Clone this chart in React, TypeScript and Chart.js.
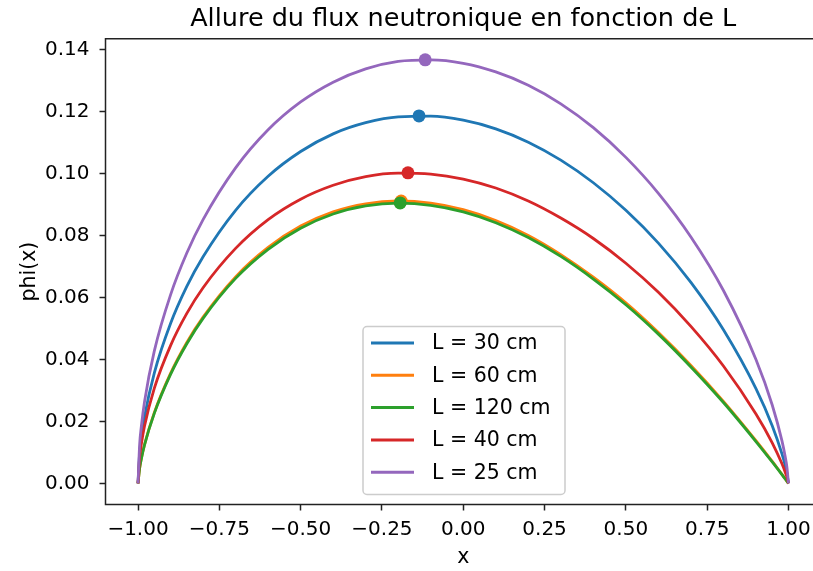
import React, { useEffect, useRef } from 'react';
import { Chart, registerables } from 'chart.js';

Chart.register(...registerables);

const TITLE = 'Allure du flux neutronique en fonction de L';
const X_LABEL = 'x';
const Y_LABEL = 'phi(x)';

const XS = [-1, -0.995, -0.99, -0.98, -0.95, -0.9, -0.85, -0.8, -0.7, -0.6, -0.5, -0.4, -0.3, -0.2, -0.1, 0, 0.1, 0.2, 0.3, 0.4, 0.5, 0.6, 0.7, 0.8, 0.9, 0.95, 0.98, 0.99, 0.995, 1];

const PHI_30 = [0, 0.0099, 0.0146, 0.0215, 0.0356, 0.0516, 0.0636, 0.0732, 0.0882, 0.0992, 0.1072, 0.1129, 0.1165, 0.1184, 0.1186, 0.1173, 0.1145, 0.1102, 0.1044, 0.0971, 0.0882, 0.0776, 0.0649, 0.0496, 0.0306, 0.0186, 0.0095, 0.0057, 0.0034, 0];
const PHI_60 = [0, 0.0049, 0.0079, 0.0125, 0.0228, 0.0355, 0.0455, 0.0537, 0.0667, 0.0762, 0.0831, 0.0877, 0.0903, 0.0912, 0.0905, 0.0884, 0.0849, 0.0801, 0.0739, 0.0666, 0.0583, 0.0487, 0.0381, 0.0265, 0.0138, 0.0071, 0.0029, 0.0015, 0.0007, 0];
const PHI_120 = [0, 0.0049, 0.0078, 0.0124, 0.0226, 0.0352, 0.0451, 0.0533, 0.0662, 0.0756, 0.0824, 0.0870, 0.0896, 0.0905, 0.0898, 0.0877, 0.0842, 0.0794, 0.0733, 0.0660, 0.0577, 0.0482, 0.0376, 0.0261, 0.0135, 0.0069, 0.0028, 0.0014, 0.0007, 0];
const PHI_40 = [0, 0.0085, 0.0125, 0.0185, 0.0307, 0.0445, 0.0549, 0.0632, 0.0759, 0.0852, 0.0918, 0.0963, 0.0991, 0.1002, 0.0999, 0.0983, 0.0954, 0.0912, 0.0857, 0.0791, 0.0711, 0.0617, 0.0507, 0.0379, 0.0224, 0.0131, 0.0063, 0.0036, 0.0021, 0];
const PHI_25 = [0, 0.0126, 0.0182, 0.0264, 0.0427, 0.0609, 0.0744, 0.0852, 0.1019, 0.1142, 0.1232, 0.1296, 0.1339, 0.1363, 0.1368, 0.1357, 0.1329, 0.1286, 0.1226, 0.1149, 0.1053, 0.0937, 0.0796, 0.0623, 0.0400, 0.0253, 0.0137, 0.0086, 0.0054, 0];

const SERIES_LABELS = ['L = 30 cm', 'L = 60 cm', 'L = 120 cm', 'L = 40 cm', 'L = 25 cm'];
const SERIES_COLORS = ['#1f77b4', '#ff7f0e', '#2ca02c', '#d62728', '#9467bd'];
const SERIES = [PHI_30, PHI_60, PHI_120, PHI_40, PHI_25];

const PEAK_X = [-0.136, -0.191, -0.194, -0.170, -0.117];
const PEAK_Y = [0.1187, 0.0912, 0.0906, 0.1003, 0.1368];

const X_TICKS = [-1, -0.75, -0.5, -0.25, 0, 0.25, 0.5, 0.75, 1];
const Y_TICKS = [0, 0.02, 0.04, 0.06, 0.08, 0.1, 0.12, 0.14];

const X_MIN = -1.1;
const X_VISIBLE_MAX = 1.0554;
const X_FULL_MAX = 1.1;

const FONT = '"DejaVu Sans", "Liberation Sans", sans-serif';
const AXIS_COLOR = '#222';

const fmt = (v: number) => {
  const s = Math.abs(v).toFixed(2);
  return v < -1e-9 ? '\u2212' + s : s;
};

const decorPlugin = {
  id: 'decor',
  afterDraw(chart: any) {
    const ctx = chart.ctx;
    const { left, right, top, bottom } = chart.chartArea;
    const W = chart.width;
    ctx.save();
    ctx.fillStyle = '#fff';
    ctx.fillRect(right - 3, top + 1, W - right + 3, bottom - top - 2);
    ctx.strokeStyle = AXIS_COLOR;
    ctx.lineWidth = 1.5;
    ctx.beginPath();
    ctx.moveTo(W + 2, top);
    ctx.lineTo(left, top);
    ctx.lineTo(left, bottom);
    ctx.lineTo(W + 2, bottom);
    ctx.stroke();
    const xs = chart.scales.x;
    const cx = (xs.getPixelForValue(X_MIN) + xs.getPixelForValue(X_FULL_MAX)) / 2;
    ctx.fillStyle = '#000';
    ctx.font = `25.5px ${FONT}`;
    ctx.textAlign = 'center';
    ctx.textBaseline = 'alphabetic';
    ctx.fillText(TITLE, cx, top - 12.5);
    ctx.font = `20.5px ${FONT}`;
    ctx.fillText(X_LABEL, cx, 563);
    ctx.save();
    ctx.translate(30, (top + bottom) / 2);
    ctx.rotate(-Math.PI / 2);
    ctx.textBaseline = 'middle';
    ctx.fillText(Y_LABEL, 0, 0);
    ctx.restore();
    const bx = 363, by = 326.5, bw = 202, bh = 168, r = 4;
    ctx.beginPath();
    ctx.moveTo(bx + r, by);
    ctx.lineTo(bx + bw - r, by);
    ctx.arcTo(bx + bw, by, bx + bw, by + r, r);
    ctx.lineTo(bx + bw, by + bh - r);
    ctx.arcTo(bx + bw, by + bh, bx + bw - r, by + bh, r);
    ctx.lineTo(bx + r, by + bh);
    ctx.arcTo(bx, by + bh, bx, by + bh - r, r);
    ctx.lineTo(bx, by + r);
    ctx.arcTo(bx, by, bx + r, by, r);
    ctx.closePath();
    ctx.fillStyle = 'rgba(255,255,255,0.8)';
    ctx.fill();
    ctx.strokeStyle = '#cccccc';
    ctx.lineWidth = 1.5;
    ctx.stroke();
    ctx.font = `20.5px ${FONT}`;
    ctx.textAlign = 'left';
    ctx.textBaseline = 'middle';
    SERIES_LABELS.forEach((lab, i) => {
      const y = 343 + i * 32.3;
      ctx.strokeStyle = SERIES_COLORS[i];
      ctx.lineWidth = 3;
      ctx.beginPath();
      ctx.moveTo(371, y);
      ctx.lineTo(414, y);
      ctx.stroke();
      ctx.fillStyle = '#000';
      ctx.fillText(lab, 432, y + 1);
    });
    ctx.restore();
  },
};

export default function App() {
  const ref = useRef<HTMLCanvasElement>(null);
  useEffect(() => {
    if (!ref.current) return;
    const datasets: any[] = [];
    SERIES.forEach((ys, i) => {
      datasets.push({
        type: 'line',
        label: SERIES_LABELS[i],
        data: XS.map((x, j) => ({ x, y: ys[j] })),
        borderColor: SERIES_COLORS[i],
        backgroundColor: SERIES_COLORS[i],
        borderWidth: 2.8,
        pointRadius: 0,
        fill: false,
        cubicInterpolationMode: 'monotone',
        order: 100 - 2 * i,
      });
      datasets.push({
        type: 'line',
        showLine: false,
        label: SERIES_LABELS[i] + ' max',
        data: [{ x: PEAK_X[i], y: PEAK_Y[i] }],
        backgroundColor: SERIES_COLORS[i],
        borderColor: SERIES_COLORS[i],
        pointBorderWidth: 0,
        pointRadius: 6.5,
        order: 99 - 2 * i,
      });
    });
    const tickFont = { family: FONT, size: 20 };
    const chart = new Chart(ref.current, {
      type: 'line',
      data: { datasets },
      options: {
        responsive: false,
        maintainAspectRatio: false,
        animation: false,
        devicePixelRatio: 1,
        layout: { padding: { left: 0, right: 0, top: 38.7, bottom: 0 } },
        plugins: { legend: { display: false }, title: { display: false }, tooltip: { enabled: false } },
        scales: {
          x: {
            type: 'linear',
            min: X_MIN,
            max: X_VISIBLE_MAX,
            afterBuildTicks: (s: any) => { s.ticks = X_TICKS.map((v) => ({ value: v })); },
            afterFit: (s: any) => { s.height = 66.5; s.paddingRight = 0; s.paddingLeft = 0; },
            ticks: { font: tickFont, color: '#000', padding: 7, maxRotation: 0, autoSkip: false, callback: (v: any) => fmt(Number(v)) },
            grid: { display: true, drawOnChartArea: false, drawTicks: true, tickLength: 6, tickWidth: 1.5, tickColor: AXIS_COLOR },
            border: { display: false },
          },
          y: {
            type: 'linear',
            min: -0.00684,
            max: 0.14364,
            afterBuildTicks: (s: any) => { s.ticks = Y_TICKS.map((v) => ({ value: v })); },
            afterFit: (s: any) => { s.width = 105.5; s.paddingTop = 0; s.paddingBottom = 0; },
            ticks: { font: tickFont, color: '#000', padding: 10, autoSkip: false, callback: (v: any) => fmt(Number(v)) },
            grid: { display: true, drawOnChartArea: false, drawTicks: true, tickLength: 6, tickWidth: 1.5, tickColor: AXIS_COLOR },
            border: { display: false },
          },
        },
      },
      plugins: [decorPlugin],
    } as any);
    return () => chart.destroy();
  }, []);
  return (
    <div style={{ position: 'fixed', left: 0, top: 0, width: 813, height: 571, overflow: 'hidden', background: '#fff' }}>
      <canvas ref={ref} width={813} height={571} style={{ position: 'absolute', left: 0, top: 0, width: 813, height: 571 }} />
    </div>
  );
}
